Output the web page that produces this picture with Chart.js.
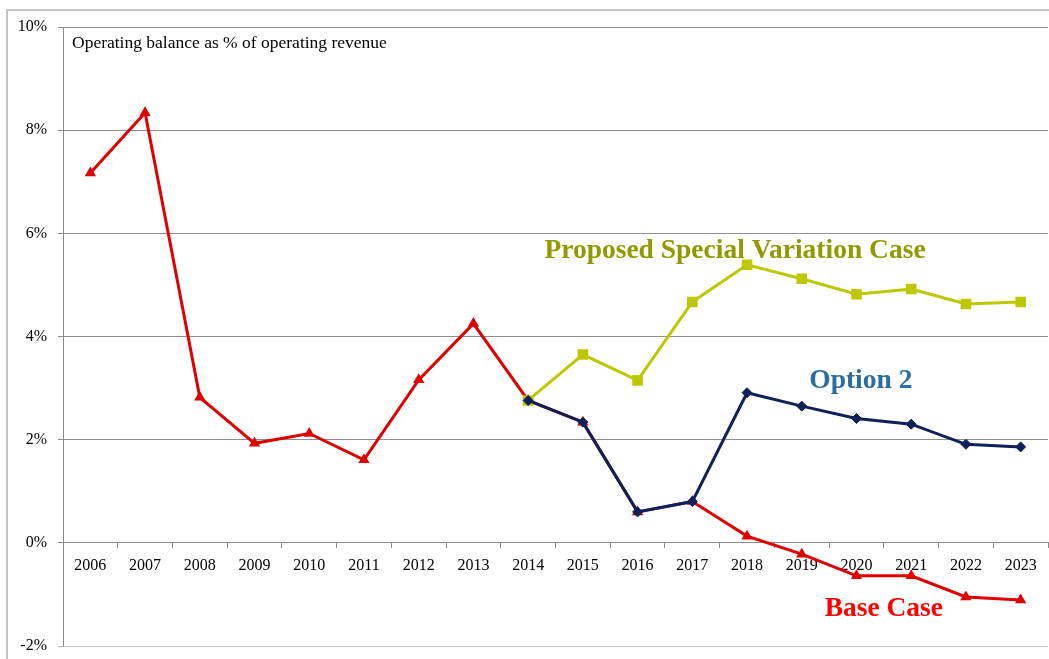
<!DOCTYPE html>
<html>
<head>
  <meta charset="utf-8">
  <title>Operating balance as % of operating revenue</title>
  <script src="https://cdn.jsdelivr.net/npm/chart.js"></script>
  <style>
    body {
      margin: 0;
      background: #fff;
      overflow: hidden;
    }
    #frame {
      position: absolute;
      left: 6px;
      top: 9px;
      width: 1200px;
      height: 800px;
      border: 2px solid #c4c4c4;
    }
    #chart {
      position: absolute;
      left: 0;
      top: 0;
    }
  </style>
</head>
<body>
  <div id="frame"></div>
  <canvas id="chart" width="1049" height="659"></canvas>

  <script>
    // ------------------- DATA --------------------
    const years = ['2006', '2007', '2008', '2009', '2010', '2011', '2012', '2013', '2014',
                   '2015', '2016', '2017', '2018', '2019', '2020', '2021', '2022', '2023'];

    const baseCase = [7.17, 8.34, 2.82, 1.93, 2.12, 1.61, 3.16, 4.25, 2.76,
                      2.34, 0.60, 0.80, 0.13, -0.22, -0.64, -0.64, -1.05, -1.11];

    const option2 = [null, null, null, null, null, null, null, null, 2.76,
                     2.34, 0.60, 0.80, 2.91, 2.65, 2.41, 2.30, 1.91, 1.86];

    const specialVariation = [null, null, null, null, null, null, null, null, 2.76,
                              3.65, 3.15, 4.67, 5.39, 5.12, 4.82, 4.92, 4.63, 4.67];

    const yTicks = [-2, 0, 2, 4, 6, 8, 10];

    const SERIF = '"Liberation Serif", "DejaVu Serif", serif';

    // ------------------- LABELS ON THE PLOT --------------------
    // text placed by category index / value so it follows the scales
    const seriesLabels = [
      { text: 'Proposed Special Variation Case', at: 11.78, value: 5.53, color: '#8f9b00' },
      { text: 'Option 2', at: 14.08, value: 3.01, color: '#2b6ca3' },
      { text: 'Base Case', at: 14.5, value: -1.41, color: '#ff0000' }
    ];

    const textPlugin = {
      id: 'plotText',
      afterDatasetsDraw(chart) {
        const ctx = chart.ctx;
        const area = chart.chartArea;
        const xs = chart.scales.x;
        const ys = chart.scales.y;
        ctx.save();
        ctx.fillStyle = '#000';
        ctx.font = '17.5px ' + SERIF;
        ctx.textAlign = 'left';
        ctx.textBaseline = 'middle';
        ctx.fillText('Operating balance as % of operating revenue', area.left + 9, area.top + 16);

        ctx.font = 'bold 27.5px ' + SERIF;
        ctx.textAlign = 'center';
        ctx.textBaseline = 'alphabetic';
        seriesLabels.forEach(l => {
          ctx.fillStyle = l.color;
          ctx.fillText(l.text, xs.getPixelForValue(l.at), ys.getPixelForValue(l.value));
        });
        ctx.restore();
      }
    };

    // drop the label overflow paddings so layout.padding alone sets the plot box
    function noPad(s) {
      s.paddingLeft = 0;
      s.paddingRight = 0;
      s.paddingTop = 0;
      s.paddingBottom = 0;
    }

    // ------------------- CHART --------------------
    const chart = new Chart(document.getElementById('chart'), {
      type: 'line',
      data: {
        labels: years,
        datasets: [
          {
            label: 'Option 2',
            data: option2,
            borderColor: '#0c2059',
            backgroundColor: '#0c2059',
            borderWidth: 3,
            pointStyle: 'rectRot',
            pointRadius: 5,
            pointBorderWidth: 1,
            tension: 0,
            order: 1
          },
          {
            label: 'Proposed Special Variation Case',
            data: specialVariation,
            borderColor: '#bec800',
            backgroundColor: '#bec800',
            borderWidth: 3,
            pointStyle: 'rect',
            pointRadius: 7.5,
            pointBorderWidth: 0,
            tension: 0,
            order: 2
          },
          {
            label: 'Base Case',
            data: baseCase,
            borderColor: '#e10000',
            backgroundColor: '#e10000',
            borderWidth: 3,
            pointStyle: 'triangle',
            pointRadius: 6.5,
            pointBorderWidth: 0,
            tension: 0,
            order: 3
          }
        ]
      },
      options: {
        responsive: false,
        animation: false,
        layout: {
          autoPadding: false,
          padding: { left: 0, top: 27, right: 1, bottom: 13 }
        },
        plugins: {
          legend: { display: false },
          tooltip: { enabled: false }
        },
        scales: {
          x: {
            type: 'category',
            position: { y: 0 },
            offset: true,
            grid: {
              offset: true,
              drawOnChartArea: false,
              drawTicks: true,
              tickLength: 5,
              color: '#8c8c8c'
            },
            border: { display: true, color: '#8c8c8c', width: 1 },
            ticks: {
              color: '#000',
              font: { family: SERIF, size: 16 },
              padding: 8,
              maxRotation: 0,
              autoSkip: false
            },
            afterFit: (s) => { s.height = 0; noPad(s); }
          },
          y: {
            min: -2,
            max: 10,
            afterBuildTicks: (s) => { s.ticks = yTicks.map(v => ({ value: v })); },
            grid: {
              color: (c) => c.tick && c.tick.value === -2 ? '#c4c4c4' : '#8f8f8f',
              tickLength: 5
            },
            border: { display: true, color: '#8c8c8c', width: 1 },
            ticks: {
              color: '#000',
              font: { family: SERIF, size: 16 },
              padding: 11,
              callback: (v) => v + '%'
            },
            afterFit: (s) => { s.width = 63; noPad(s); }
          }
        }
      },
      plugins: [textPlugin]
    });
  </script>
</body>
</html>
